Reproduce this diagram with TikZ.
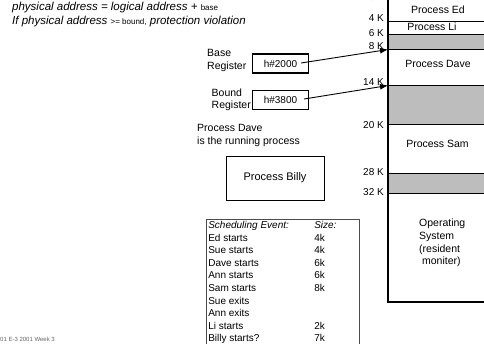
\documentclass[tikz,border=0pt]{standalone}
\usepackage{fontspec}
\setmainfont{Liberation Sans}
\usetikzlibrary{arrows.meta,calc,positioning}
\definecolor{hatchgray}{gray}{0.74}
\tikzset{
  note/.style={anchor=west, inner sep=0pt, font=\fontsize{11.5}{13}\selectfont\itshape},
  memtext/.style={inner sep=0pt, font=\fontsize{10.5}{12.6}\selectfont},
  klabel/.style={anchor=east, inner sep=0pt, font=\fontsize{10}{12}\selectfont},
  regbox/.style={draw, line width=1.1pt, minimum width=56pt, minimum height=19pt, inner sep=0pt, font=\fontsize{10}{12}\selectfont},
  bound line/.style={line width=0.6pt},
  ptr/.style={line width=0.9pt, -{Latex[length=8pt,width=6pt]}}
}
\begin{document}
\begin{tikzpicture}[x=1pt,y=-1pt]
  \useasboundingbox (0,0) rectangle (484,343);

  % address rules
  \node[note] (rule1) at (12,8) {physical address = logical address + {\upshape\fontsize{8}{9}\selectfont base}};
  \node[note] (rule2) at (12,22) {If physical address {\upshape\fontsize{8}{9}\selectfont >= bound,} protection violation};

  % memory map
  \fill[hatchgray] (388,34.5) rectangle (490,49);
  \fill[hatchgray] (388,85) rectangle (490,124);
  \fill[hatchgray] (388,173) rectangle (490,193);
  \draw[line width=1.8pt] (388,21.5) -- (490,21.5);
  \draw[bound line] (388,34.5) -- (490,34.5);
  \draw[bound line] (388,49) -- (490,49);
  \draw[bound line] (388,85) -- (490,85);
  \draw[bound line] (388,124) -- (490,124);
  \draw[bound line] (388,173) -- (490,173);
  \draw[bound line] (388,193) -- (490,193);
  \draw[line width=1.8pt] (388,-5) -- (388,302) -- (490,302);

  \node[memtext] (ed) at (438,10) {Process Ed};
  \node[memtext] (li) at (432,27) {Process Li};
  \node[memtext] (dave) at (438,63.5) {Process Dave};
  \node[memtext] (sam) at (437.5,143.5) {Process Sam};
  \node[memtext, anchor=north west, align=left] (os) at (419,219) {Operating\\System\\(resident\\\ moniter)};

  \node[klabel] (k0) at (384,-3) {0 K};
  \node[klabel] (k4) at (384,18.5) {4 K};
  \node[klabel] (k6) at (384,33) {6 K};
  \node[klabel] (k8) at (384,46) {8 K};
  \node[klabel] (k14) at (384,82.5) {14 K};
  \node[klabel] (k20) at (384,125) {20 K};
  \node[klabel] (k28) at (384,172) {28 K};
  \node[klabel] (k32) at (384,192) {32 K};

  \coordinate (at8k) at (388,49.5);
  \coordinate (at14k) at (388,85.5);

  % registers
  \node[memtext, anchor=north west, align=left] (base) at (207,49) {Base\\Register};
  \node[regbox] (basereg) at (280.5,63.5) {h\#2000\hspace{9pt}};
  \node[memtext, anchor=north west, align=left] (bound) at (211.5,88.5) {Bound\\Register};
  \node[regbox] (boundreg) at (280.5,100) {h\#3800\hspace{9pt}};
  \coordinate (basetail) at ($(basereg.east)+(-8,-0.5)$);
  \coordinate (boundtail) at ($(boundreg.east)+(-5,-1)$);
  \draw[ptr] (basetail) -- (at8k);
  \draw[ptr] (boundtail) -- (at14k);

  \node[memtext, anchor=north west, align=left] (running) at (197,124.5) {Process Dave\\is the running process};

  \node[draw, line width=0.8pt, minimum width=98pt, minimum height=44pt, font=\fontsize{11}{13}\selectfont] (billy) at (275,178) {Process Billy\\[14pt]};

  % scheduling events
  \node[draw=black!70, line width=0.6pt, anchor=north west, inner xsep=2pt, inner ysep=0.4pt, font=\fontsize{10}{12.6}\selectfont] (events) at (206,219)
  {\begin{tabular}{@{}p{94pt}p{43pt}@{}}
    \textit{Scheduling Event:} & \textit{Size:}\\
    Ed starts & 4k\\
    Sue starts & 4k\\
    Dave starts & 6k\\
    Ann starts & 6k\\
    Sam starts & 8k\\
    Sue exits & \\
    Ann exits & \\
    Li starts & 2k\\
    Billy starts? & 7k\\
    & \\
  \end{tabular}};

  \node[anchor=west, inner sep=0pt, text=black!60, font=\fontsize{6}{7}\selectfont] (footer) at (0,339) {01 E-3 2001 Week 3};
\end{tikzpicture}
\end{document}
